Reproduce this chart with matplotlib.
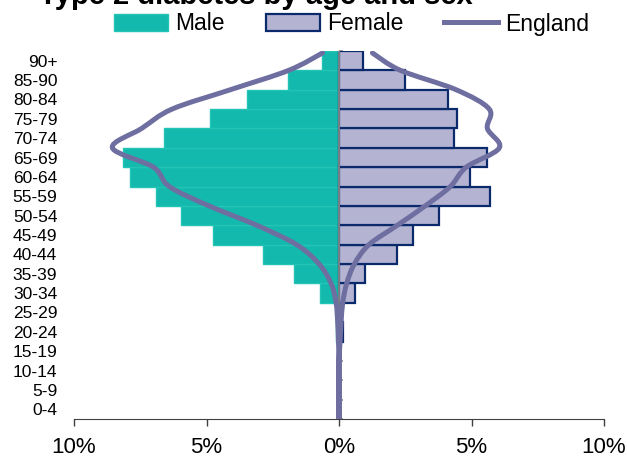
import numpy as np
import matplotlib
matplotlib.use("Agg")
import matplotlib.pyplot as plt
from matplotlib.path import Path
from matplotlib.patches import PathPatch, Patch
from matplotlib.lines import Line2D

plt.rcParams["font.family"] = ["Liberation Sans", "DejaVu Sans"]

# ---------------------------------------------------------------- data
ages = ["0-4", "5-9", "10-14", "15-19", "20-24", "25-29", "30-34", "35-39",
        "40-44", "45-49", "50-54", "55-59", "60-64", "65-69", "70-74",
        "75-79", "80-84", "85-90", "90+"]
male = [0, 0, 0, 0, 0.1, 0.1, 0.72, 1.7, 2.88, 4.74, 5.97, 6.9, 7.87, 8.16,
        6.62, 4.86, 3.47, 1.94, 0.65]
female = [0, 0, 0, 0, 0.15, 0.05, 0.6, 0.99, 2.19, 2.78, 3.76, 5.7, 4.96, 5.6,
          4.33, 4.45, 4.11, 2.5, 0.92]

# England profile, read at band boundaries (0 = bottom of 0-4 ... 19 = top of 90+)
eng_bound = [0, 1, 2, 3, 4, 5, 6, 7, 8, 9, 10, 11, 12, 13, 14, 15, 16, 17, 18, 18.9]
eng_male = [0, 0, 0, 0, -0.02, -0.05, -0.11, -0.3, -0.75, -1.6, -3.1, -4.9,
            -6.4, -7.0, -8.55, -7.45, -6.3, -4.1, -1.9, -0.62]
eng_female = [0, 0, 0, 0, 0.04, 0.08, 0.14, 0.29, 0.58, 1.13, 2.2, 3.25,
              4.2, 4.8, 6.05, 5.6, 5.67, 4.42, 2.32, 1.26]

xticks = [-10, -5, 0, 5, 10]
xticklabels = ["10%", "5%", "0%", "5%", "10%"]

C_MALE, C_MALE_EDGE = "#14B9AD", "#22C4B6"
C_FEM, C_FEM_EDGE = "#B4B4D2", "#0A2A6B"
C_ENG = "#6E6FA0"


def smooth_path(xs, ys):
    # catmull-rom through the points, handed to matplotlib as cubic beziers
    pts = np.column_stack([xs, ys])
    verts, codes = [pts[0]], [Path.MOVETO]
    for i in range(len(pts) - 1):
        p0 = pts[max(i - 1, 0)]
        p1, p2 = pts[i], pts[i + 1]
        p3 = pts[min(i + 2, len(pts) - 1)]
        verts += [p1 + (p2 - p0) / 6, p2 - (p3 - p1) / 6, p2]
        codes += [Path.CURVE4] * 3
    return Path(verts, codes)


fig = plt.figure(figsize=(6.27, 4.59), dpi=100)
ax = fig.add_axes([74 / 627, 40 / 459, 530 / 627, 368 / 459])

y = np.arange(len(ages))
ax.barh(y, [-v for v in male], height=1.0, color=C_MALE, edgecolor=C_MALE_EDGE,
        linewidth=1.0, zorder=2)
ax.barh(y, female, height=1.0, color=C_FEM, edgecolor=C_FEM_EDGE,
        linewidth=1.6, zorder=2)
ax.axvline(0, color="#8C8C8C", lw=1.2, zorder=3)

# England line: male side top->bottom, then female side back up
yb = [b - 0.5 for b in eng_bound]
xs = eng_male[::-1] + eng_female[1:]
ys = yb[::-1] + yb[1:]
ax.add_patch(PathPatch(smooth_path(xs, ys), fill=False, edgecolor=C_ENG,
                       lw=3.6, capstyle="round", zorder=4))

ax.set_xlim(-10, 10)
ax.set_ylim(-0.5, len(ages) - 0.5)
ax.set_xticks(xticks)
ax.set_xticklabels(xticklabels, fontsize=16)
ax.set_yticks(y)
ax.set_yticklabels(ages, fontsize=12.5)
ax.tick_params(axis="y", length=0, pad=12)
ax.tick_params(axis="x", length=5, width=1, color="#404040", pad=8)
for s in ["top", "right", "left"]:
    ax.spines[s].set_visible(False)
ax.spines["bottom"].set_color("#404040")

# small category ticks on the centre line
sec = ax.secondary_yaxis(0.5)
sec.set_yticks(np.arange(len(ages) + 1) - 0.5)
sec.set_yticklabels([])
sec.tick_params(length=3, width=1.2, color="#8C8C8C")
sec.spines["left"].set_visible(False)

fig.text(39 / 627, 1 - 4 / 459, "Type 2 diabetes by age and sex", fontsize=21,
         fontweight="bold", va="baseline", ha="left")

handles = [Patch(facecolor=C_MALE, edgecolor=C_MALE_EDGE, label="Male"),
           Patch(facecolor=C_FEM, edgecolor=C_FEM_EDGE, lw=1.6, label="Female"),
           Line2D([], [], color=C_ENG, lw=3.6, label="England")]
fig.legend(handles=handles, loc="center", bbox_to_anchor=(0.561, 1 - 24 / 459),
           ncol=3, frameon=False, fontsize=16.5, handlelength=2.35,
           handletextpad=0.3, columnspacing=1.8, borderaxespad=0, borderpad=0)

fig.savefig("out.png", dpi=100)
